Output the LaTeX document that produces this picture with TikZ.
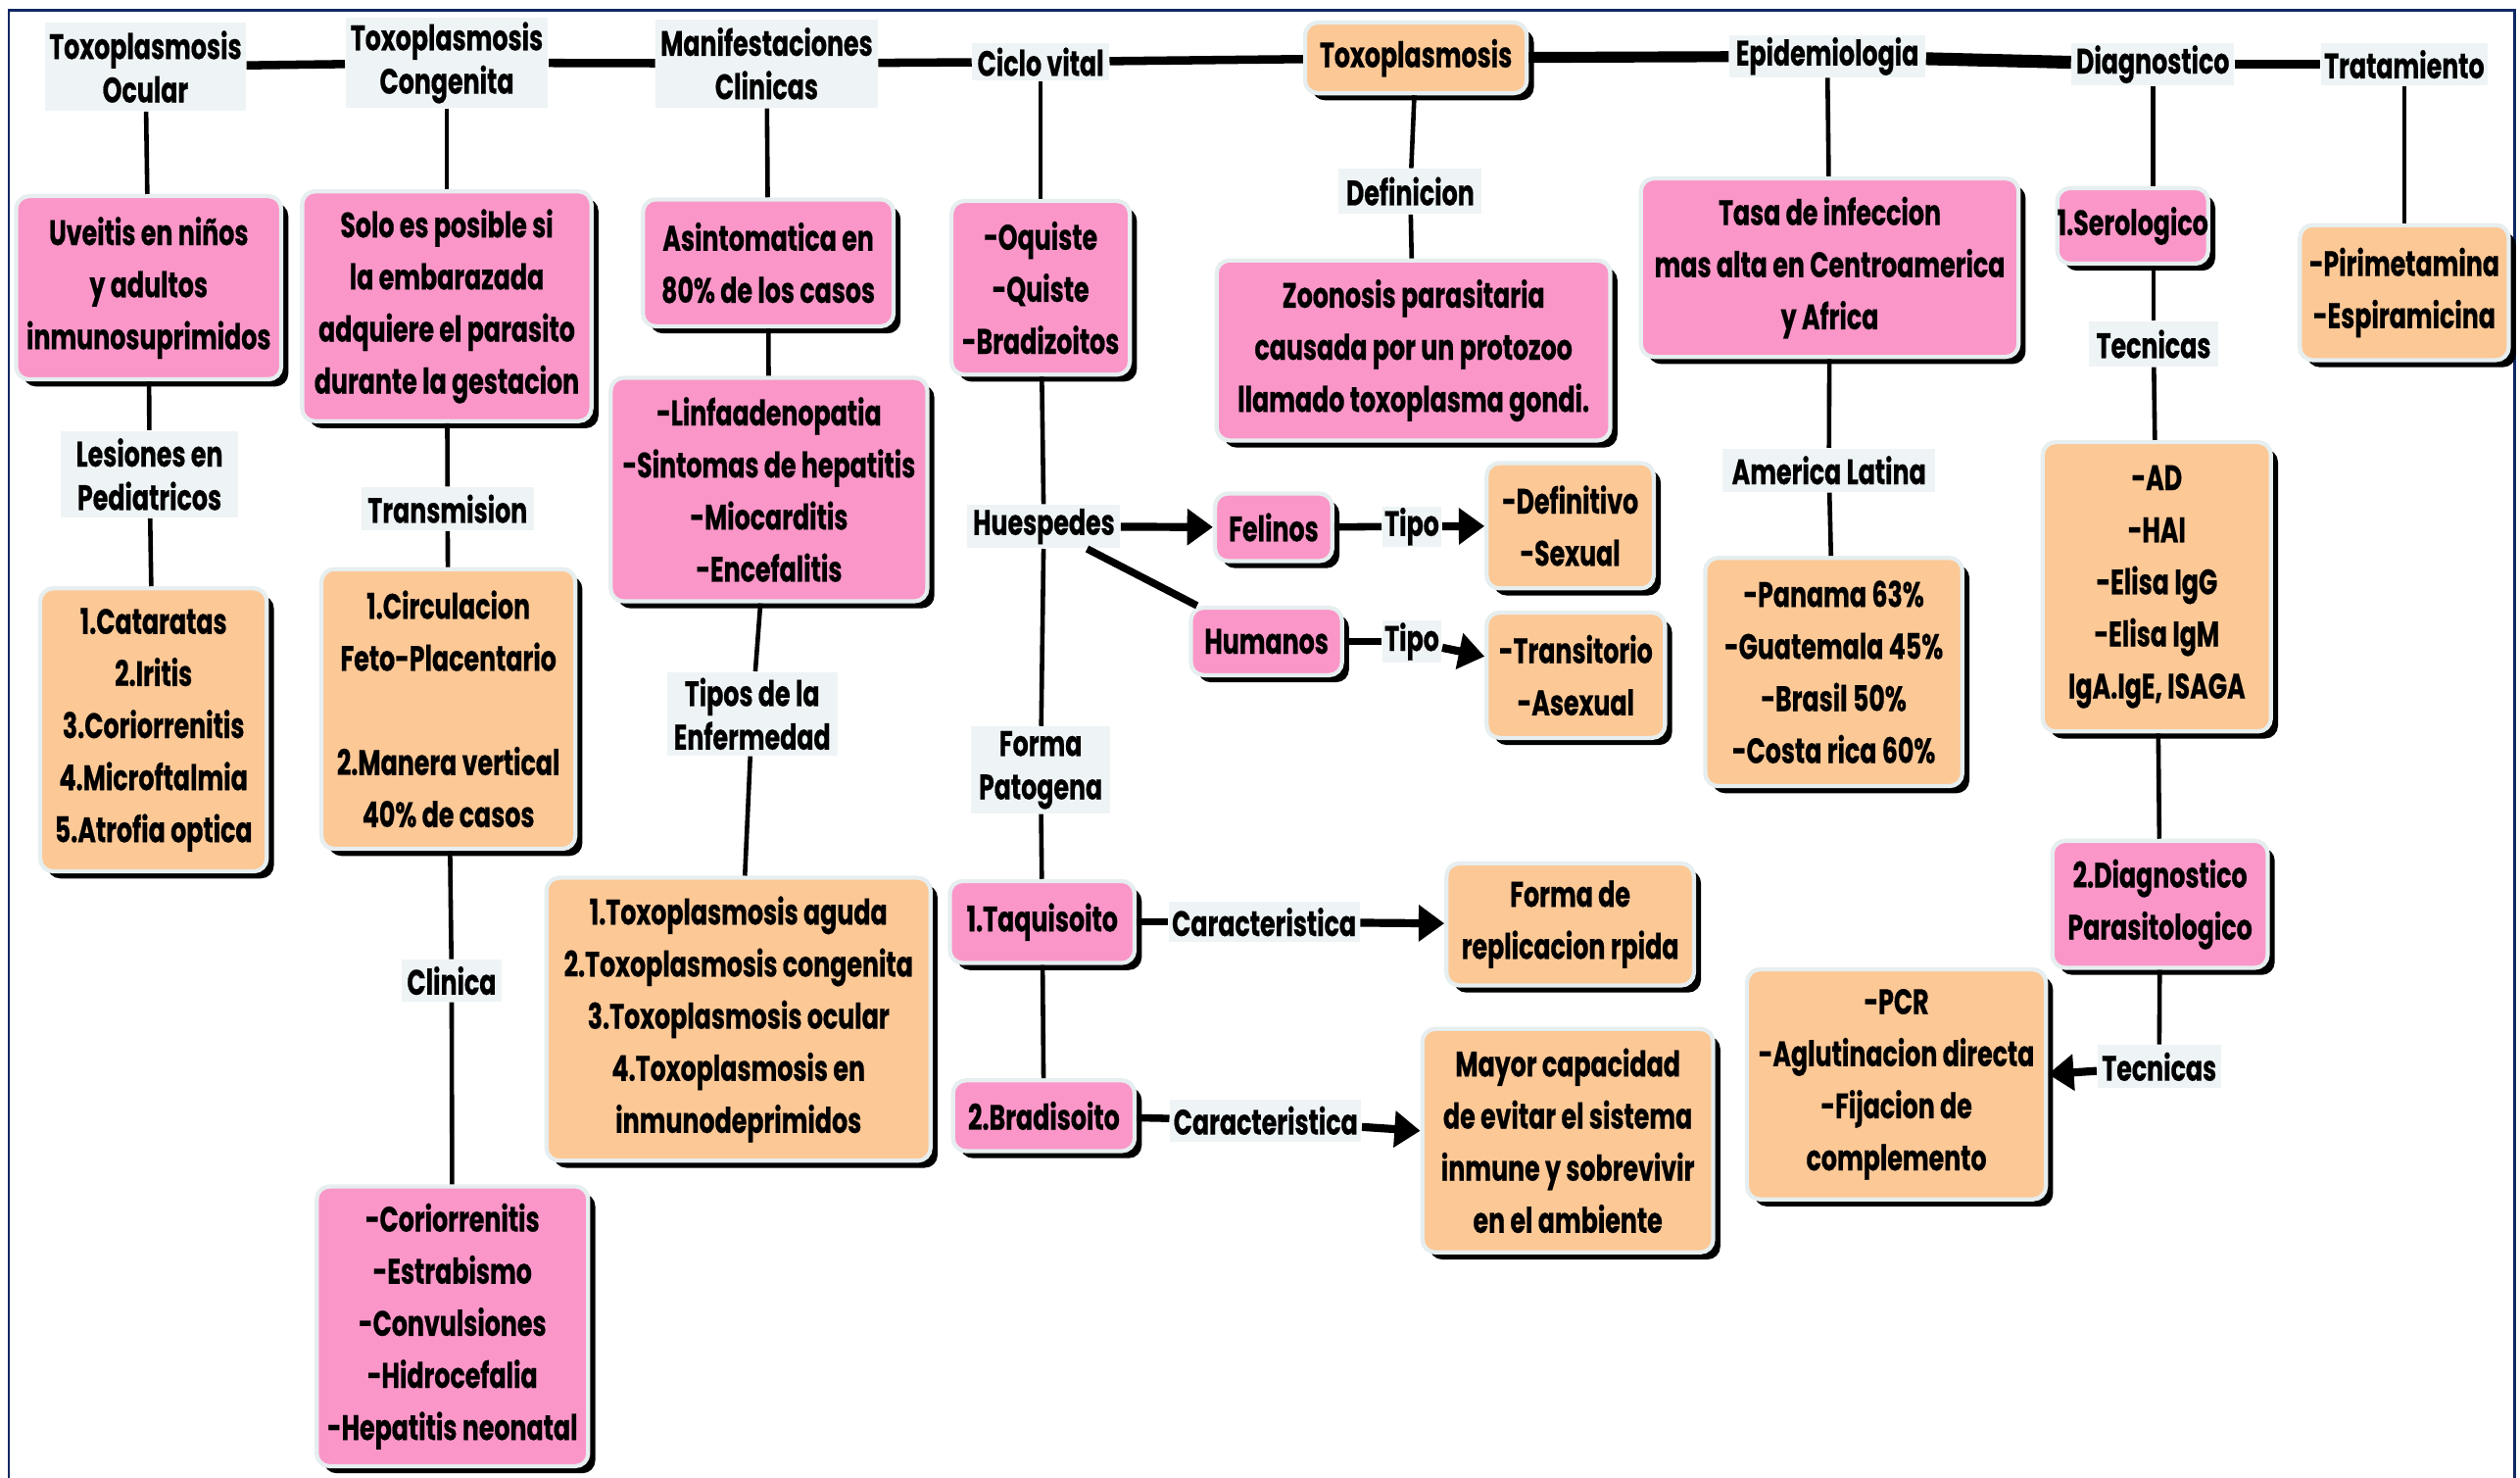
\documentclass[tikz,border=0pt]{standalone}
\usepackage{fontspec}
\setmainfont{Poppins}[FakeStretch=0.7, BoldFeatures={FakeBold=0.5}]
\usetikzlibrary{shadows,arrows.meta}
\definecolor{pinkc}{HTML}{FA96C8}
\definecolor{orc}{HTML}{FCC896}
\definecolor{labc}{HTML}{EEF4F6}
\definecolor{edgec}{HTML}{E6EEEF}
\definecolor{navy}{HTML}{0F2864}
\newcommand{\mfont}{\bfseries\fontsize{11}{16.2}\selectfont}
\newcommand{\lfont}{\bfseries\fontsize{11}{13.5}\selectfont}
\tikzset{
  base/.style={font=\mfont, align=center, inner sep=0pt, text=black},
  pinkbox/.style={base, rounded corners=4pt, fill=pinkc, draw=edgec, line width=1.3pt,
    general shadow={fill=black, shadow xshift=2.2pt, shadow yshift=-2.2pt}},
  orbox/.style={pinkbox, fill=orc},
  lab/.style={base, font=\lfont, fill=labc},
  conn/.style={line width=1.4pt},
  hconn/.style={line width=2.3pt},
  topconn/.style={line width=2.6pt},
  arr/.style={line width=2.5pt, -{Triangle[length=8pt,width=11pt]}},
}
\begin{document}
\begin{tikzpicture}[x=0.5pt,y=-0.5pt]
\useasboundingbox (0,0) rectangle (1568,919);
\draw[navy, line width=0.9pt] (5.5,935) -- (5.5,6.5) -- (1564.5,6.5) -- (1564.5,935);

% top row
\node[lab, minimum width=62.5pt, minimum height=27.5pt] (ocu) at (90.5,41.5) {Toxoplasmosis\\Ocular};
\node[lab, minimum width=63pt, minimum height=28pt] (cong) at (278,39) {Toxoplasmosis\\Congenita};
\node[lab, minimum width=69pt, minimum height=27.5pt] (manif) at (477,39.5) {Manifestaciones\\Clinicas};
\node[lab, minimum width=42.5pt, minimum height=11.5pt] (ciclo) at (647.5,38.5) {Ciclo vital};
\node[orbox, minimum width=69pt, minimum height=22pt] (toxo) at (881,36) {Toxoplasmosis};
\node[lab, minimum width=61pt, minimum height=13pt] (epid) at (1137,35) {Epidemiologia};
\node[lab, minimum width=50.5pt, minimum height=13pt] (diag) at (1339.5,40) {Diagnostico};
\node[lab, minimum width=52pt, minimum height=13pt] (trat) at (1496,40) {Tratamiento};

% column 1
\node[pinkbox, minimum width=82.5pt, minimum height=57pt] (uve) at (92.5,179) {Uveitis en niños\\y adultos\\inmunosuprimidos};
\node[lab, minimum width=55pt, minimum height=27pt] (les) at (93,295) {Lesiones en\\Pediatricos};
\node[orbox, minimum width=70.5pt, minimum height=88pt] (cat) at (95.5,454) {1.Cataratas\\2.Iritis\\3.Coriorrenitis\\4.Microftalmia\\5.Atrofia optica};

% column 2
\node[pinkbox, minimum width=90pt, minimum height=71.5pt] (solo) at (278,190.5) {Solo es posible si\\la embarazada\\adquiere el parasito\\durante la gestacion};
\node[lab, minimum width=53.5pt, minimum height=13.5pt] (trans) at (278.5,316.5) {Transmision};
\node[orbox, minimum width=79pt, minimum height=87pt] (circ) at (279,441) {1.Circulacion\\Feto-Placentario\\[16.2pt]2.Manera vertical\\40\% de casos};
\node[lab, minimum width=31pt, minimum height=13pt] (clin) at (281,610) {Clinica};
\node[pinkbox, minimum width=84.5pt, minimum height=87pt] (cor) at (281.5,825) {-Coriorrenitis\\-Estrabismo\\-Convulsiones\\-Hidrocefalia\\-Hepatitis neonatal};

% column 3
\node[pinkbox, minimum width=78pt, minimum height=39.5pt] (asin) at (478,163.5) {Asintomatica en\\80\% de los casos};
\node[pinkbox, minimum width=98.5pt, minimum height=69.5pt] (linf) at (478.5,304.5) {-Linfaadenopatia\\-Sintomas de hepatitis\\-Miocarditis\\-Encefalitis};
\node[lab, minimum width=53pt, minimum height=26pt] (tipos) at (468,444) {Tipos de la\\Enfermedad};
\node[orbox, minimum width=119.5pt, minimum height=88pt] (tox4) at (459.5,634) {1.Toxoplasmosis aguda\\2.Toxoplasmosis congenita\\3.Toxoplasmosis ocular\\4.Toxoplasmosis en\\inmunodeprimidos};

% column 4
\node[pinkbox, minimum width=55.5pt, minimum height=54pt] (oq) at (647.5,179) {-Oquiste\\-Quiste\\-Bradizoitos};
\node[lab, minimum width=47.5pt, minimum height=13.5pt] (hues) at (649.5,327.5) {Huespedes};
\node[pinkbox, minimum width=36.5pt, minimum height=21pt] (fel) at (792.5,328) {Felinos};
\node[lab, minimum width=18.5pt, minimum height=12.5pt] (tipoA) at (878.5,327.5) {Tipo};
\node[orbox, minimum width=52pt, minimum height=39pt] (defi) at (977,327) {-Definitivo\\-Sexual};
\node[pinkbox, minimum width=47pt, minimum height=21pt] (hum) at (788,399) {Humanos};
\node[lab, minimum width=18.5pt, minimum height=13pt] (tipoB) at (878.5,399) {Tipo};
\node[orbox, minimum width=55.5pt, minimum height=39pt] (tra) at (980.5,420) {-Transitorio\\-Asexual};
\node[lab, minimum width=43.5pt, minimum height=27pt] (forma) at (647.5,479) {Forma\\Patogena};
\node[pinkbox, minimum width=57.5pt, minimum height=25.5pt] (taq) at (648.5,573.5) {1.Taquisoito};
\node[lab, minimum width=59.5pt, minimum height=12.5pt] (carA) at (786.5,573.5) {Caracteristica};
\node[orbox, minimum width=77pt, minimum height=38pt] (fde) at (977,575) {Forma de\\replicacion rpida};
\node[pinkbox, minimum width=56.5pt, minimum height=22pt] (brad) at (649.5,694) {2.Bradisoito};
\node[lab, minimum width=59.5pt, minimum height=13pt] (carB) at (787.5,697) {Caracteristica};
\node[orbox, minimum width=90.5pt, minimum height=69.5pt] (may) at (975.5,709.5) {Mayor capacidad\\de evitar el sistema\\inmune y sobrevivir\\en el ambiente};

% toxoplasmosis column
\node[lab, minimum width=44.5pt, minimum height=14pt] (defn) at (877.5,119) {Definicion};
\node[pinkbox, minimum width=122.5pt, minimum height=56pt] (zoo) at (879.5,218) {Zoonosis parasitaria\\causada por un protozoo\\llamado toxoplasma gondi.};

% epidemiologia column
\node[pinkbox, minimum width=117.5pt, minimum height=55.5pt] (tasa) at (1138.5,166.5) {Tasa de infeccion\\mas alta en Centroamerica\\y Africa};
\node[lab, minimum width=66pt, minimum height=13.5pt] (amlat) at (1138,292.5) {America Latina};
\node[orbox, minimum width=80pt, minimum height=71pt] (pan) at (1141,418) {-Panama 63\%\\-Guatemala 45\%\\-Brasil 50\%\\-Costa rica 60\%};

% diagnostico column
\node[pinkbox, minimum width=44pt, minimum height=23.5pt] (sero) at (1327,140.5) {1.Serologico};
\node[lab, minimum width=40pt, minimum height=14pt] (tecA) at (1340,214) {Tecnicas};
\node[orbox, minimum width=71pt, minimum height=90pt] (ad) at (1342,365) {-AD\\-HAI\\-Elisa IgG\\-Elisa IgM\\IgA.IgE, ISAGA};
\node[pinkbox, minimum width=67pt, minimum height=39.5pt] (diagB) at (1344,562.5) {2.Diagnostico\\Parasitologico};
\node[lab, minimum width=38.5pt, minimum height=13.5pt] (tecB) at (1343.5,663.5) {Tecnicas};
\node[orbox, minimum width=93pt, minimum height=71.5pt] (pcr) at (1180,674.5) {-PCR\\-Aglutinacion directa\\-Fijacion de\\complemento};

% tratamiento column
\node[orbox, minimum width=65pt, minimum height=42pt] (pir) at (1496,182) {-Pirimetamina\\-Espiramicina};

% top connectors
\draw[topconn] (ocu) -- (cong);
\draw[topconn] (cong) -- (manif);
\draw[topconn] (manif) -- (ciclo);
\draw[topconn] (ciclo) -- (toxo);
\draw[line width=3.4pt] (toxo) -- (epid);
\draw[line width=4pt] (epid) -- (diag);
\draw[topconn] (diag) -- (trat);

% vertical connectors
\draw[conn] (ocu) -- (uve);
\draw[conn] (uve) -- (les);
\draw[conn] (les) -- (cat);
\draw[conn] (cong) -- (solo);
\draw[conn] (solo) -- (trans);
\draw[conn] (trans) -- (circ);
\draw[conn] (circ) -- (clin);
\draw[conn] (clin) -- (cor);
\draw[conn] (manif) -- (asin);
\draw[conn] (asin) -- (linf);
\draw[conn] (linf) -- (tipos);
\draw[conn] (tipos) -- (tox4);
\draw[conn] (ciclo) -- (oq);
\draw[conn] (oq) -- (hues);
\draw[conn] (hues) -- (forma);
\draw[conn] (forma) -- (taq);
\draw[conn] (taq) -- (brad);
\draw[conn] (toxo) -- (defn);
\draw[conn] (defn) -- (zoo);
\draw[conn] (epid) -- (tasa);
\draw[conn] (tasa) -- (amlat);
\draw[conn] (amlat) -- (pan);
\draw[conn] (diag.south) -- (diag.south |- sero.north);
\draw[conn] (tecA.north) -- (tecA.north |- sero.south);
\draw[conn] (tecA) -- (ad);
\draw[conn] (ad) -- (diagB);
\draw[conn] (diagB) -- (tecB);
\draw[conn] (trat) -- (pir);

% horizontal connectors and arrows
\draw[arr] (hues) -- (fel);
\draw[hconn] (hues) -- (hum);
\draw[hconn] (fel) -- (tipoA);
\draw[arr] (tipoA) -- (defi);
\draw[hconn] (hum) -- (tipoB);
\draw[arr] (tipoB) -- (tra);
\draw[hconn] (taq) -- (carA);
\draw[arr] (carA) -- (fde);
\draw[hconn] (brad) -- (carB);
\draw[arr] (carB) -- (may);
\draw[arr] (tecB) -- (pcr);
\end{tikzpicture}
\end{document}
